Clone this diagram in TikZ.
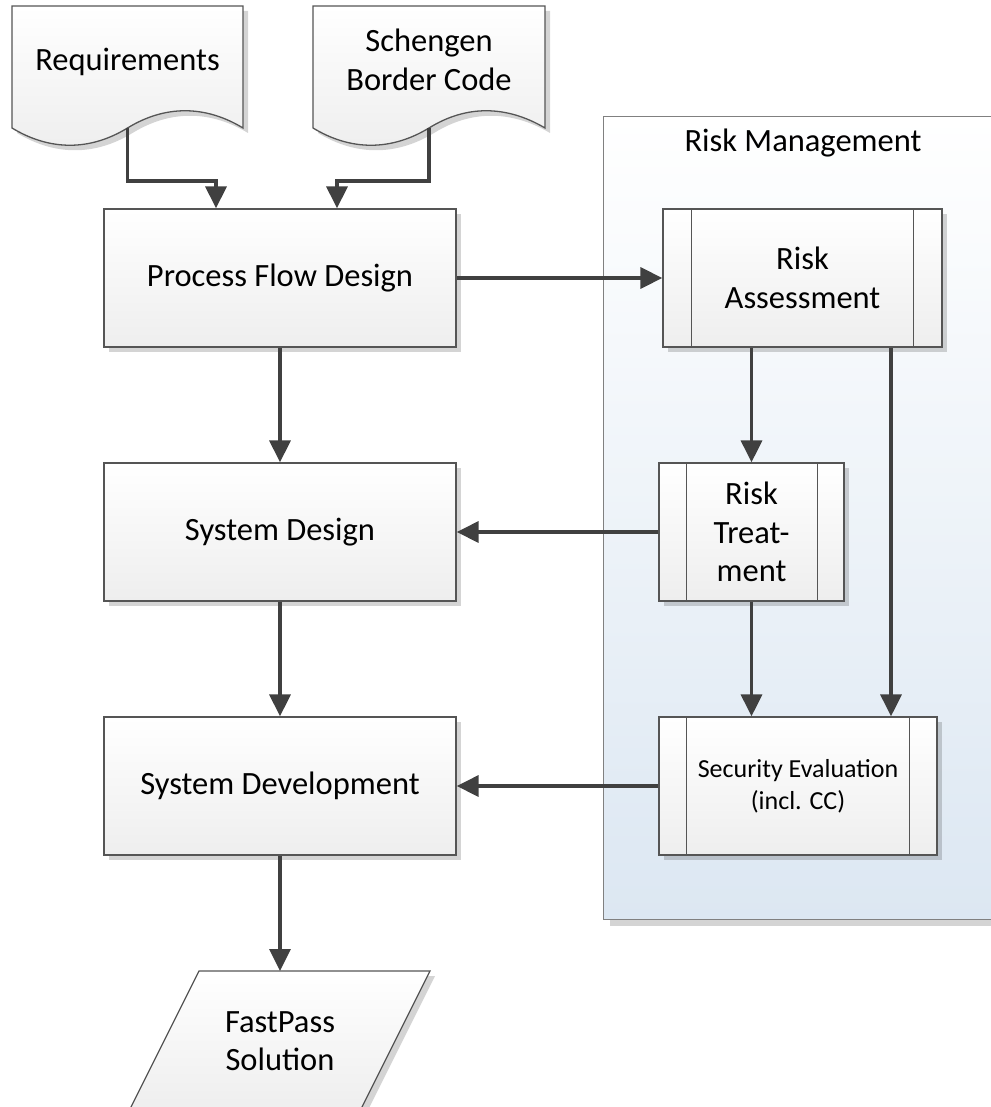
\documentclass[tikz,border=0pt]{standalone}
\usepackage{fontspec}
\setmainfont{Carlito}
\usetikzlibrary{arrows.meta,shadows,calc}
\definecolor{linec}{RGB}{64,64,64}
\definecolor{boxline}{RGB}{85,85,85}
\definecolor{rmline}{RGB}{128,128,128}
\definecolor{rmblue}{RGB}{220,231,242}
\definecolor{boxbot}{RGB}{238,238,238}
\newcommand{\bigfont}{\fontsize{32.5}{38.5}\selectfont}
\newcommand{\smallfont}{\fontsize{26}{32}\selectfont}
\tikzset{
  shad/.style={drop shadow={shadow xshift=5pt, shadow yshift=-5pt, fill=black, opacity=0.17}},
  bigshad/.style={drop shadow={shadow xshift=6pt, shadow yshift=-6pt, fill=black, opacity=0.17}},
  boxfill/.style={draw=boxline, line width=1.3pt, top color=white, bottom color=boxbot},
  procbox/.style={boxfill, shad, inner sep=0pt, align=center, font=\bigfont},
  lbl/.style={align=center, font=\bigfont, inner sep=0pt},
  conn/.style={draw=linec, line width=3.4pt, -{Triangle[length=22pt,width=21pt]}},
  subline/.style={draw=boxline, line width=1.3pt},
}
\begin{document}
\begin{tikzpicture}[x=1pt, y=-1pt]
\useasboundingbox (0,0) rectangle (990,1107);

% Risk management container
\node[draw=rmline, line width=1.2pt, top color=white, bottom color=rmblue, bigshad,
      minimum width=400pt, minimum height=803pt, anchor=north west, inner sep=0pt] (rm) at (603,116) {};
\node[lbl] (rmlabel) at (803,143) {Risk Management};

% Documents
\path[boxfill, shad] (12,6) -- (243,6) -- (243,128)
  .. controls (205,105) and (165,105) .. (127.5,128)
  .. controls (90,151) and (50,151) .. (12,128) -- cycle;
\node[lbl] (req) at (127.5,62) {Requirements};
\coordinate (reqout) at (127.5,128);

\path[boxfill, shad] (313,6) -- (545,6) -- (545,128)
  .. controls (506,105) and (466,105) .. (429,128)
  .. controls (391,151) and (351,151) .. (313,128) -- cycle;
\node[lbl] (sbc) at (429,60) {Schengen\\Border Code};
\coordinate (sbcout) at (429,128);

% Process boxes
\node[procbox, minimum width=352pt, minimum height=138pt] (pfd) at (280,278) {Process Flow Design};
\node[procbox, minimum width=352pt, minimum height=138pt] (sd) at (280,532) {System Design};
\node[procbox, minimum width=352pt, minimum height=138pt] (sdev) at (280,786) {System Development};

% Subprocess boxes
\node[procbox, minimum width=279pt, minimum height=138pt] (ra) at (802.5,278) {Risk\\Assessment};
\draw[subline] ([xshift=29pt]ra.north west) -- ([xshift=29pt]ra.south west);
\draw[subline] ([xshift=-29pt]ra.north east) -- ([xshift=-29pt]ra.south east);

\node[procbox, minimum width=185pt, minimum height=138pt] (rt) at (751.5,532) {Risk\\Treat-\\ment};
\draw[subline] ([xshift=28pt]rt.north west) -- ([xshift=28pt]rt.south west);
\draw[subline] ([xshift=-27pt]rt.north east) -- ([xshift=-27pt]rt.south east);

\node[procbox, minimum width=278pt, minimum height=138pt, font=\smallfont] (se) at (798,786) {Security Evaluation\\(incl. CC)};
\draw[subline] ([xshift=28pt]se.north west) -- ([xshift=28pt]se.south west);
\draw[subline] ([xshift=-28pt]se.north east) -- ([xshift=-28pt]se.south east);

% Output parallelogram
\path[boxfill, shad] (199,971) -- (430,971) -- (360,1111) -- (129,1111) -- cycle;
\node[lbl] (fp) at (280,1041) {FastPass\\Solution};
\coordinate (fpin) at (280,971);

% Connectors
\draw[conn] (reqout) -- ++(0,53) -| ([xshift=-64pt]pfd.north);
\draw[conn] (sbcout) -- ++(0,53) -| ([xshift=57pt]pfd.north);
\draw[conn] (pfd.east) -- (ra.west);
\draw[conn] (pfd.south) -- (sd.north);
\draw[conn] (sd.south) -- (sdev.north);
\draw[conn] (sdev.south) -- (fpin);
\draw[conn] (ra.south -| rt.north) -- (rt.north);
\draw[conn] ([xshift=88.5pt]ra.south) -- ([xshift=88.5pt]ra.south |- se.north);
\draw[conn] (rt.south) -- (rt.south |- se.north);
\draw[conn] (rt.west) -- (sd.east);
\draw[conn] (se.west) -- (sdev.east);
\end{tikzpicture}
\end{document}
